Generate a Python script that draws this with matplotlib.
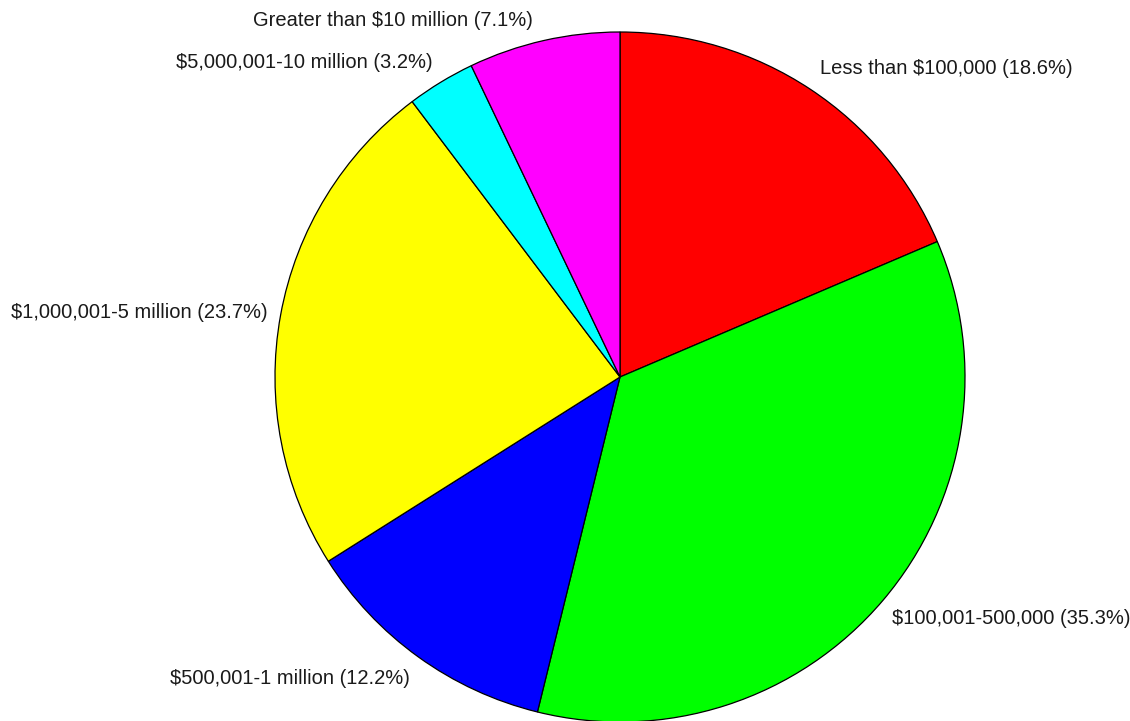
import matplotlib
matplotlib.use("Agg")
import matplotlib.pyplot as plt

labels = ["Less than $100,000", "$100,001-500,000", "$500,001-1 million",
          "$1,000,001-5 million", "$5,000,001-10 million", "Greater than $10 million"]
shares = [18.6, 35.3, 12.2, 23.7, 3.2, 7.1]
colors = ["#ff0000", "#00ff00", "#0000ff", "#ffff00", "#00ffff", "#ff00ff"]

# label anchors in pixels from the top-left corner, with alignment
label_pos = [(820, 68, "left"), (892, 618, "left"), (410, 679, "right"),
             (268, 313, "right"), (433, 62, "right"), (533, 21, "right")]

W, H = 1130, 721
fig = plt.figure(figsize=(W / 100, H / 100), dpi=100)
ax = fig.add_axes([0, 0, 1, 1])

ax.pie(shares, colors=colors, startangle=90, counterclock=False,
       center=(620, H - 377), radius=345, frame=True,
       wedgeprops=dict(edgecolor="black", linewidth=0.9))
ax.set_xlim(0, W)
ax.set_ylim(0, H)
ax.axis("off")

for lab, val, (x, y, ha) in zip(labels, shares, label_pos):
    ax.text(x, H - y, f"{lab} ({val}%)", ha=ha, va="center",
            fontsize=14.5, family="Liberation Sans", color="#1a1a1a")

fig.savefig("out.png", dpi=100)
